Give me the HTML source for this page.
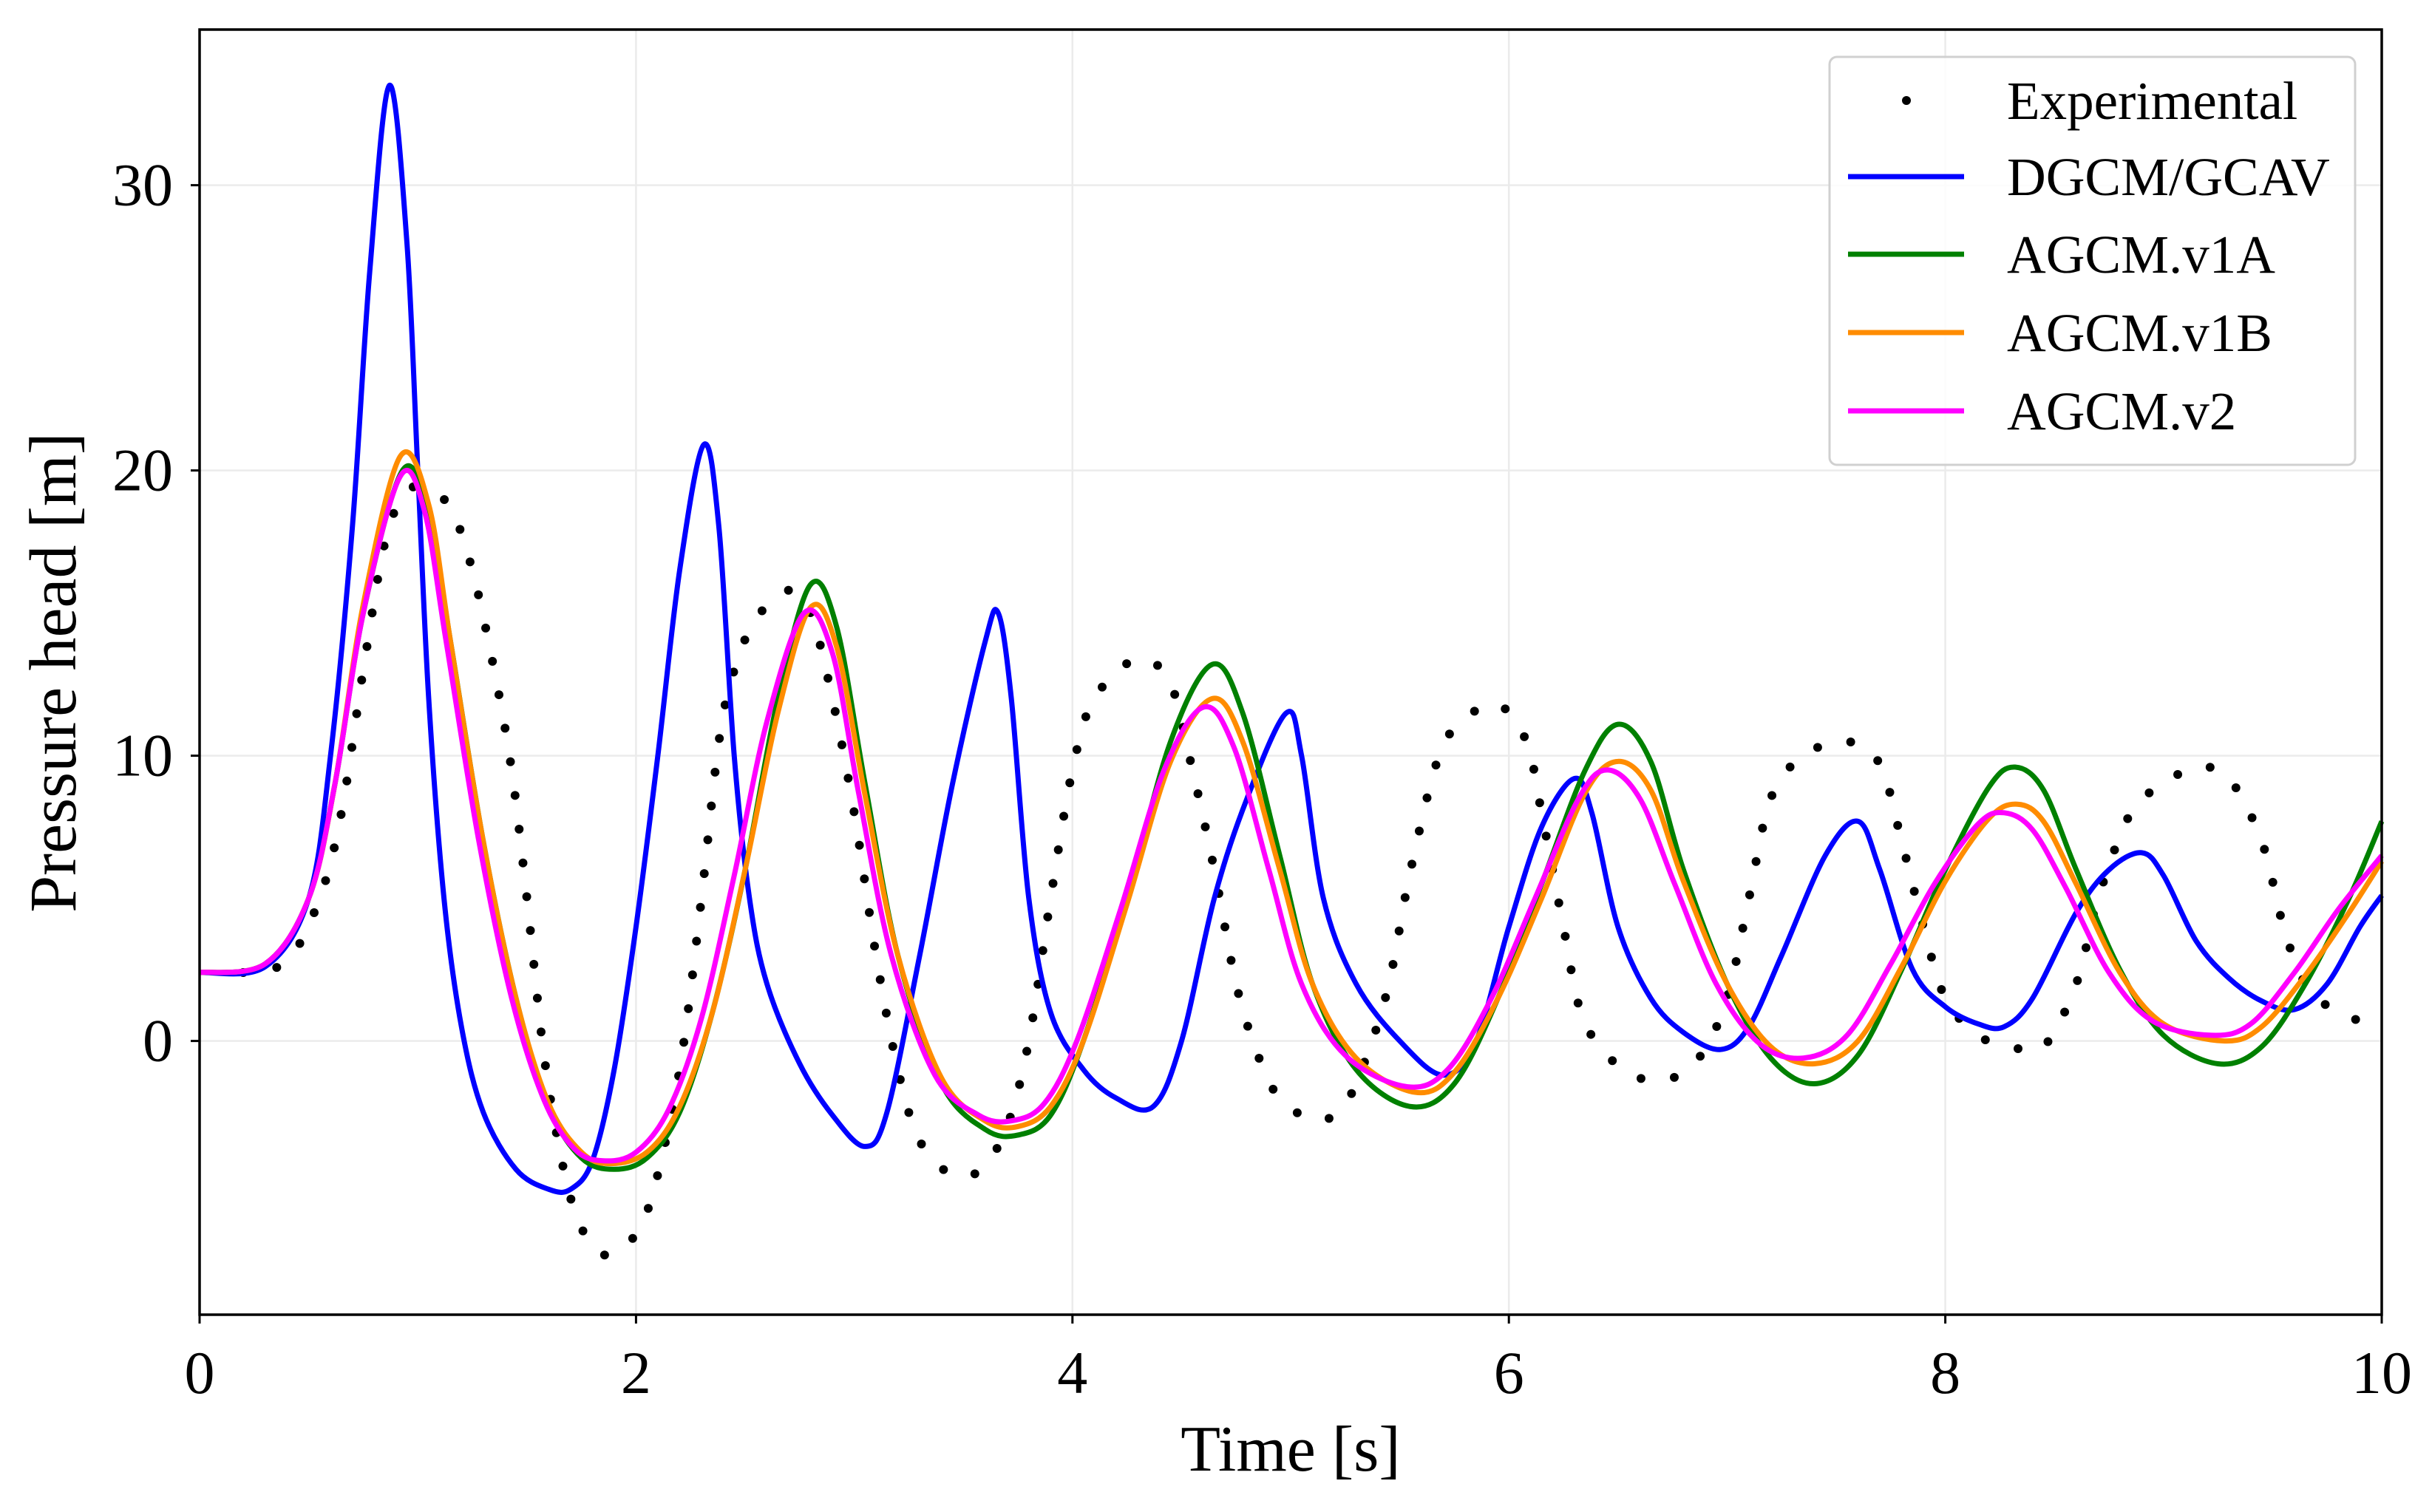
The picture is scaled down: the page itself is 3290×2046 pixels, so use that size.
<!DOCTYPE html>
<html><head><meta charset="utf-8"><style>
html,body{margin:0;padding:0;background:#fff}
svg{display:block}
text{font-family:"Liberation Serif",serif;fill:#000}
</style></head><body>
<svg id="chart" width="3290" height="2046" viewBox="0 0 3290 2046">
<g id="grid"></g>
<g id="series"></g>
<g id="axes"></g>
<g id="legend"></g>
</svg>
<script>
const xTicks=[0,2,4,6,8,10];
const xTickLabels=["0","2","4","6","8","10"];
const yTicks=[0,10,20,30];
const yTickLabels=["0","10","20","30"];
const seriesNames=["Experimental","DGCM/GCAV","AGCM.v1A","AGCM.v1B","AGCM.v2"];
const expT=[0.2,0.4,0.55,0.65,0.75,0.85,0.95,1.05,1.15,1.25,1.35,1.43,1.5,1.57,1.63,1.7,1.78,1.85,1.95,2.05,2.15,2.22,2.3,2.38,2.45,2.55,2.7,2.8,2.9,3.0,3.1,3.2,3.3,3.45,3.58,3.7,3.8,3.9,4.0,4.1,4.3,4.45,4.55,4.65,4.75,4.85,4.95,5.12,5.25,5.35,5.45,5.55,5.68,5.8,5.95,6.08,6.15,6.25,6.33,6.45,6.6,6.75,6.88,7.0,7.1,7.2,7.35,7.55,7.7,7.8,7.9,8.0,8.15,8.3,8.45,8.6,8.7,8.85,9.0,9.15,9.3,9.45,9.55,9.65,9.8,10];
const expV=[2.4,2.8,5,8,13,17.5,19.3,19.2,18.7,16.5,13,9.5,5,0,-3,-5.5,-7,-7.5,-7.2,-6,-3,0,5,10.5,13,14.8,15.8,15,12,8,3,-1,-3.5,-4.7,-4.5,-3,0,5,9.5,12,13.4,12.5,9.5,6,2,-0.5,-2,-2.8,-2.2,-0.5,2,6,10,11.3,11.8,10.5,8,4,1,-0.5,-1.3,-1.3,-0.5,1.5,5,8.5,10,10.5,9.7,7,4,1.5,0.2,-0.2,-0.2,2,5,8,9,9.6,9.2,7,4,2,1,0.5];
const dgT=[0,0.3,0.5,0.6,0.7,0.78,0.87,0.95,1.0,1.05,1.12,1.2,1.3,1.45,1.6,1.7,1.8,1.9,2.0,2.1,2.2,2.31,2.38,2.45,2.52,2.6,2.75,2.9,3.05,3.15,3.3,3.45,3.6,3.66,3.72,3.8,3.9,4.05,4.2,4.37,4.5,4.65,4.8,4.98,5.05,5.15,5.3,5.5,5.7,5.85,6.0,6.15,6.3,6.38,6.5,6.65,6.8,6.97,7.1,7.25,7.45,7.6,7.7,7.85,8.0,8.15,8.27,8.4,8.6,8.75,8.9,9.0,9.15,9.3,9.45,9.6,9.75,9.9,10];
const dgV=[2.4,2.6,5,10,18,27,33.5,28,20,12,5,0.5,-2.5,-4.5,-5.2,-5.2,-4.2,-1,4,10,16.5,20.9,18,10,5,2,-0.8,-2.6,-3.7,-2.5,3,9,14,15,12,5,1,-1,-2,-2.3,0,5,8.5,11.5,10,5,2,0,-1.2,0,4,7.5,9.2,8,4,1.5,0.3,-0.3,0.5,3,6.5,7.7,6,2.5,1.2,0.6,0.5,1.5,4.5,6,6.6,5.8,3.5,2.2,1.4,1.1,2,4,5.1];
const v1aT=[0,0.3,0.5,0.62,0.75,0.93,1.05,1.15,1.3,1.45,1.6,1.75,1.9,2.05,2.2,2.35,2.5,2.65,2.8,2.92,3.05,3.2,3.4,3.6,3.75,3.9,4.05,4.25,4.45,4.64,4.78,4.95,5.1,5.3,5.55,5.75,5.95,6.15,6.35,6.5,6.65,6.8,7.0,7.2,7.4,7.6,7.8,8.0,8.2,8.32,8.45,8.6,8.8,9.0,9.25,9.45,9.65,9.85,10];
const v1aV=[2.4,2.7,5,9,15,20.0,18.5,14,7,1.5,-2.3,-4.1,-4.5,-4.1,-2.5,1,6,12,16,14.5,9,3,-1.5,-3.1,-3.3,-2.6,0,5,10.5,13.2,11.5,6.5,2,-1,-2.3,-1.5,1.5,5.5,9.5,11.1,9.8,6,2,-0.6,-1.5,-0.5,2.5,6,8.9,9.6,8.8,6,2.5,0.2,-0.8,-0.2,2,5,7.7];
const v1bT=[0,0.3,0.5,0.62,0.75,0.92,1.05,1.15,1.3,1.45,1.6,1.75,1.88,2.05,2.2,2.35,2.5,2.65,2.8,2.92,3.05,3.2,3.4,3.6,3.75,3.9,4.05,4.25,4.45,4.64,4.78,4.95,5.1,5.3,5.57,5.75,5.95,6.15,6.35,6.5,6.65,6.8,7.0,7.2,7.4,7.6,7.8,8.0,8.2,8.33,8.45,8.6,8.8,9.0,9.28,9.45,9.65,9.85,10];
const v1bV=[2.4,2.7,5,9,15.3,20.5,18.8,14,7,1.5,-2.2,-3.9,-4.3,-3.9,-2.3,1,6,11.5,15.2,13.8,8.6,3,-1.3,-2.8,-3.0,-2.3,0,4.8,9.8,12,10.5,6,2,-0.6,-1.8,-1.1,1.5,5,8.7,9.8,8.8,5.6,2,-0.2,-0.8,0,2.6,5.6,7.8,8.3,7.7,5.5,2.4,0.6,0,0.5,2.3,4.5,6.3];
const v2T=[0,0.3,0.5,0.62,0.75,0.92,1.03,1.13,1.28,1.43,1.58,1.72,1.85,2.0,2.15,2.3,2.45,2.6,2.77,2.9,3.02,3.17,3.37,3.57,3.72,3.87,4.02,4.22,4.42,4.6,4.74,4.9,5.05,5.25,5.53,5.72,5.92,6.12,6.32,6.45,6.6,6.76,6.95,7.15,7.35,7.55,7.75,7.95,8.15,8.27,8.4,8.55,8.75,8.95,9.22,9.4,9.6,9.8,10];
const v2V=[2.4,2.7,5,9,15,19.8,18.6,14,7,1.5,-2.1,-3.8,-4.2,-3.9,-2.4,0.8,5.8,11.2,15,13.6,8.7,3,-1.2,-2.6,-2.8,-2.2,0,4.6,9.5,11.7,10.3,6,2,-0.5,-1.6,-1,1.5,5,8.5,9.5,8.5,5.5,2,-0.1,-0.6,0.2,2.7,5.5,7.6,8.0,7.4,5.4,2.4,0.7,0.2,0.6,2.4,4.6,6.5];

const L=270,R=3222,T=40,B=1779;
const xs=t=>L+(t-0)/(10-0)*(R-L);
const ys=v=>1408.6-v*38.6;
const NS="http://www.w3.org/2000/svg";
function mk(tag,attrs,parent){const e=document.createElementNS(NS,tag);for(const k in attrs)e.setAttribute(k,attrs[k]);parent.appendChild(e);return e;}
function pathD(T_,V_){
  const p=T_.map((t,i)=>[xs(t),ys(V_[i])]);
  let d="M"+p[0][0]+","+p[0][1];
  for(let i=0;i<p.length-1;i++){
    const p0=p[i-1]||p[i],p1=p[i],p2=p[i+1],p3=p[i+2]||p[i+1];
    const c1=[p1[0]+(p2[0]-p0[0])/6,p1[1]+(p2[1]-p0[1])/6];
    const c2=[p2[0]-(p3[0]-p1[0])/6,p2[1]-(p3[1]-p1[1])/6];
    d+=` C${c1[0]},${c1[1]} ${c2[0]},${c2[1]} ${p2[0]},${p2[1]}`;
  }
  return d;
}
const grid=document.getElementById('grid');
xTicks.forEach(t=>{const l=mk('line',{x1:xs(t),x2:xs(t),y1:T,y2:B,stroke:'#ebebeb','stroke-width':2.5},grid);

});
yTicks.forEach(v=>{const l=mk('line',{x1:L,x2:R,y1:ys(v),y2:ys(v),stroke:'#ebebeb','stroke-width':2.5},grid);

});

const series=document.getElementById('series');
const ep=mk('path',{d:pathD(expT,expV),fill:'none',stroke:'none'},series);


const tl=ep.getTotalLength();
const eg=mk('g',{},series);


for(let s=0;s<=tl;s+=46){const pt=ep.getPointAtLength(s);
 const c=mk('circle',{cx:pt.x,cy:pt.y,r:6,fill:'#000'},eg);
 
 }
const lines=[[dgT,dgV,'#0000ff','dgcm-gcav-line'],[v1aT,v1aV,'#008000','agcm-v1a-line'],[v1bT,v1bV,'#ff8c00','agcm-v1b-line'],[v2T,v2V,'#ff00ff','agcm-v2-line']];
lines.forEach(s=>{const p=mk('path',{d:pathD(s[0],s[1]),fill:'none',stroke:s[2],'stroke-width':7,'stroke-linejoin':'round'},series);

});

const axes=document.getElementById('axes');
const fr=mk('rect',{x:L,y:T,width:R-L,height:B-T,fill:'none',stroke:'#000','stroke-width':3.5},axes);


xTicks.forEach((t,i)=>{mk('line',{x1:xs(t),x2:xs(t),y1:B,y2:B+12,stroke:'#000','stroke-width':3},axes);
const tx=mk('text',{x:xs(t),y:1885,'text-anchor':'middle','font-size':82},axes);tx.textContent=xTickLabels[i];

});
yTicks.forEach((v,i)=>{mk('line',{x1:L-12,x2:L,y1:ys(v),y2:ys(v),stroke:'#000','stroke-width':3},axes);
const tx=mk('text',{x:234,y:ys(v)+27,'text-anchor':'end','font-size':82},axes);tx.textContent=yTickLabels[i];

});
const xl=mk('text',{x:1746,y:1990,'text-anchor':'middle','font-size':88},axes);xl.textContent="Time [s]";


const yl=mk('text',{x:0,y:0,'text-anchor':'middle','font-size':90,transform:'translate(102,910) rotate(-90)'},axes);yl.textContent="Pressure head [m]";



const lg=document.getElementById('legend');
const lb=mk('rect',{x:2475,y:77,width:711,height:552,rx:10,fill:'#fff','fill-opacity':0.85,stroke:'#d0d0d0','stroke-width':3},lg);


const ly=[136,239,344,450,556];
const lc=[null,'#0000ff','#008000','#ff8c00','#ff00ff'];
seriesNames.forEach((n,i)=>{
 const g=mk('g',{},lg);
 
 
 if(i===0)mk('circle',{cx:2579,cy:ly[i],r:6,fill:'#000'},g);
 else mk('line',{x1:2500,x2:2657,y1:ly[i],y2:ly[i],stroke:lc[i],'stroke-width':7},g);
 const tx=mk('text',{x:2715,y:ly[i]+25,'font-size':73},g);tx.textContent=n;
});
</script>
</body></html>
